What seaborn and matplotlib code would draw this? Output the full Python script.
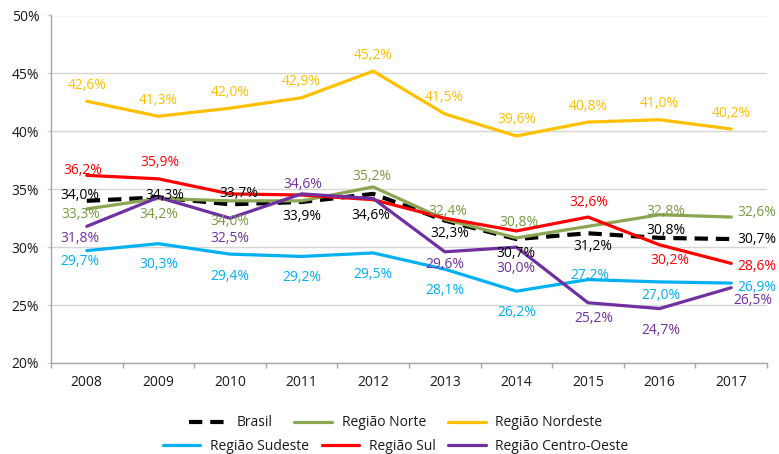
import numpy as np
import pandas as pd
import matplotlib
matplotlib.use("Agg")
import matplotlib.pyplot as plt
import seaborn as sns
from matplotlib.lines import Line2D

sns.set_theme(style="white")
plt.rcParams["font.family"] = ["Open Sans", "DejaVu Sans"]

years = [2008, 2009, 2010, 2011, 2012, 2013, 2014, 2015, 2016, 2017]

brasil = [34.0, 34.3, 33.7, 33.9, 34.6, 32.3, 30.7, 31.2, 30.8, 30.7]
norte = [33.3, 34.2, 34.0, 34.0, 35.2, 32.4, 30.8, 31.8, 32.8, 32.6]
nordeste = [42.6, 41.3, 42.0, 42.9, 45.2, 41.5, 39.6, 40.8, 41.0, 40.2]
sudeste = [29.7, 30.3, 29.4, 29.2, 29.5, 28.1, 26.2, 27.2, 27.0, 26.9]
sul = [36.2, 35.9, 34.6, 34.5, 34.1, 32.5, 31.4, 32.6, 30.2, 28.6]
centro_oeste = [31.8, 34.3, 32.5, 34.6, 34.2, 29.6, 30.0, 25.2, 24.7, 26.5]

series_names = ["Brasil", "Região Norte", "Região Nordeste",
                "Região Sudeste", "Região Sul", "Região Centro-Oeste"]
series_values = [brasil, norte, nordeste, sudeste, sul, centro_oeste]

# which points carry a value label
labelled = {
    "Brasil": [1, 1, 1, 1, 1, 1, 1, 1, 1, 1],
    "Região Norte": [1, 1, 1, 0, 1, 1, 1, 0, 1, 1],
    "Região Nordeste": [1, 1, 1, 1, 1, 1, 1, 1, 1, 1],
    "Região Sudeste": [1, 1, 1, 1, 1, 1, 1, 1, 1, 1],
    "Região Sul": [1, 1, 0, 0, 0, 0, 0, 1, 1, 1],
    "Região Centro-Oeste": [1, 0, 1, 1, 0, 1, 1, 1, 1, 1],
}

line_colors = {
    "Brasil": "#000000",
    "Região Norte": "#8AA653",
    "Região Nordeste": "#FFC000",
    "Região Sudeste": "#00B0F0",
    "Região Sul": "#FF0000",
    "Região Centro-Oeste": "#7030A0",
}
text_colors = {
    "Brasil": "#000000",
    "Região Norte": "#7A9A45",
    "Região Nordeste": "#FFC000",
    "Região Sudeste": "#00B0F0",
    "Região Sul": "#FF0000",
    "Região Centro-Oeste": "#7030A0",
}

# label placement: (dx, dy) in pixels from the point, dy downwards; "L" = left-aligned
label_pos = {
    "Brasil": [(-7, -5), (6, -2), (9, -11), (0, 15), (-2, 22), (5, 13),
               (0, 14), (5, 13), (6, -7), ("L", 6, 0)],
    "Região Norte": [(-6, 6), (0, 16), (0, 21), None, (-1, -10), (3, -8),
                     (3, -15), None, (6, -3), ("L", 6, -5)],
    "Região Nordeste": [(0, -16)] * 10,
    "Região Sudeste": [(-7, 11), (0, 21), (0, 22), (0, 21), (0, 22), (0, 21),
                       (0, 21), (2, -4), (1, 14), ("L", 6, 4)],
    "Região Sul": [(-4, -5), (2, -16), None, None, None, None, None,
                   (1, -15), (10, 16), ("L", 6, 3)],
    "Região Centro-Oeste": [(-7, 12), None, (0, 20), (1, -9), None, (0, 13),
                            (0, 21), (6, 16), (1, 22), ("L", 2, 13)],
}

W, H = 779, 454
fig = plt.figure(figsize=(W / 100, H / 100), dpi=100)
ax = fig.add_axes([51 / W, 1 - 363 / H, (767 - 51) / W, (363 - 15.5) / H])

x = np.arange(len(years))
for name, vals in zip(series_names, series_values):
    df = pd.DataFrame({"x": x, "y": vals})
    if name == "Brasil":
        sns.lineplot(data=df, x="x", y="y", ax=ax, color=line_colors[name],
                     linewidth=3.0, linestyle=(0, (3.2, 1.9)), zorder=3)
    else:
        sns.lineplot(data=df, x="x", y="y", ax=ax, color=line_colors[name],
                     linewidth=2.3, zorder=3)

for name, vals in zip(series_names, series_values):
    for i, v in enumerate(vals):
        if not labelled[name][i]:
            continue
        pos = label_pos[name][i]
        if pos is None:
            continue
        if pos[0] == "L":
            ha, dx, dy = "left", pos[1], pos[2]
        else:
            ha, dx, dy = "center", pos[0], pos[1]
        txt = f"{v:.1f}%".replace(".", ",")
        ax.annotate(txt, (i, v), xytext=(dx, -dy), textcoords="offset pixels",
                    ha=ha, va="center", fontsize=10, color=text_colors[name],
                    zorder=5, annotation_clip=False)

ax.set_xlim(-0.5, len(years) - 0.5)
ax.set_ylim(20, 50)
ax.set_xlabel("")
ax.set_ylabel("")

ax.set_xticks(x)
ax.set_xticklabels([str(y) for y in years])
ax.set_xticks(np.arange(-0.5, len(years), 1), minor=True)
ax.tick_params(axis="x", which="major", length=0, pad=8.5, labelsize=10,
               labelcolor="#1a1a1a")
ax.tick_params(axis="x", which="minor", length=3.6, width=1, color="#A6A6A6",
               direction="out", bottom=True)

yt = np.arange(20, 51, 5)
ax.set_yticks(yt)
ax.set_yticklabels([f"{t}%" for t in yt])
ax.tick_params(axis="y", which="major", length=3, width=1, color="#D0D0D0",
               pad=5.5, labelsize=10, labelcolor="#1a1a1a", left=True)

ax.yaxis.grid(True, color="#D6D6D6", linewidth=1)
ax.xaxis.grid(False)
ax.set_axisbelow(True)
for s in ["top", "right"]:
    ax.spines[s].set_visible(False)
for s in ["left", "bottom"]:
    ax.spines[s].set_color("#A6A6A6")
    ax.spines[s].set_linewidth(1)

def handle(name):
    if name == "Brasil":
        return Line2D([], [], color=line_colors[name], linewidth=3.0,
                      linestyle=(0, (3.2, 1.9)))
    return Line2D([], [], color=line_colors[name], linewidth=2.3)

row1 = series_names[:3]
row2 = series_names[3:]
leg1 = fig.legend([handle(n) for n in row1], row1, loc="center",
                  bbox_to_anchor=(0.508, 1 - 423 / H), ncol=3, frameon=False,
                  fontsize=10, handlelength=2.7, handletextpad=0.7,
                  columnspacing=1.6, borderaxespad=0, borderpad=0)
leg2 = fig.legend([handle(n) for n in row2], row2, loc="center",
                  bbox_to_anchor=(0.508, 1 - 446 / H), ncol=3, frameon=False,
                  fontsize=10, handlelength=2.7, handletextpad=0.7,
                  columnspacing=0.9, borderaxespad=0, borderpad=0)
for leg in (leg1, leg2):
    for t in leg.get_texts():
        t.set_color("#1a1a1a")

fig.savefig("out.png", dpi=100)
